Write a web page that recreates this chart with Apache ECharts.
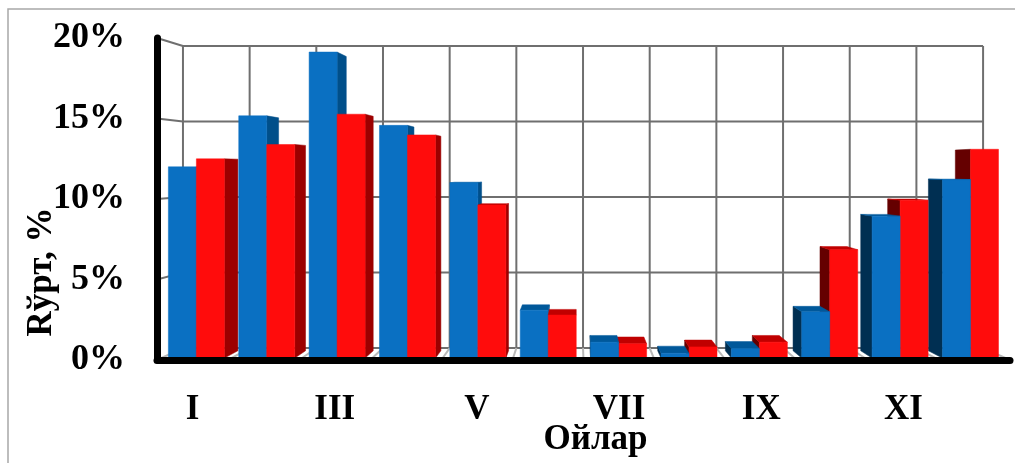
<!DOCTYPE html>
<html>
<head>
<meta charset="utf-8">
<script src="https://cdn.jsdelivr.net/npm/echarts@6/dist/echarts.min.js"></script>
<style>
  html, body { margin: 0; padding: 0; background: #ffffff; }
  #chart { width: 1015px; height: 463px; }
</style>
</head>
<body>
<div id="chart"></div>
<script>
// Months (Roman numerals) and monthly shares, %
const months = ['I', 'II', 'III', 'IV', 'V', 'VI', 'VII', 'VIII', 'IX', 'X', 'XI', 'XII'];
const seriesBlue = [12.0, 15.2, 19.2, 14.6, 11.0, 3.0, 1.0, 0.3, 0.6, 2.9, 8.9, 11.2];
const seriesRed  = [12.5, 13.4, 15.3, 14.0, 9.6, 2.7, 0.9, 0.7, 1.0, 6.8, 9.9, 13.1];
const yTicks = [0, 5, 10, 15, 20];

// Simple perspective: everything is shrunk toward a vanishing point as it goes back.
const VP = { fx: 0.491, fy: 0.404 };                          // vanishing point, fraction of plot area
const DEPTH = { barFront: 0.99, barBack: 0.952, wall: 0.938 }; // scale factors per depth plane
const BAR_FRAC = 0.398;                                        // bar width as a share of a category

const FONT = '"Liberation Serif", "Times New Roman", serif';
const GRID_COLOR = '#6f6f6f';

const paletteBlue = { front: '#0a70c2', top: '#00589a', sideR: '#004f8a', sideL: '#002f52' };
const paletteRed  = { front: '#ff0c0c', top: '#c00000', sideR: '#9c0000', sideL: '#650000' };

function projector(cs) {
  const cx = cs.x + cs.width * VP.fx;
  const cy = cs.y + cs.height * VP.fy;
  return { cx, cy, P: (x, y, s) => [cx + s * (x - cx), cy + s * (y - cy)] };
}

function poly(points, color) {
  return { type: 'polygon', shape: { points }, style: { fill: color, stroke: color, lineWidth: 0.5 } };
}

function barRenderer(side, palette) {
  return function (params, api) {
    const { cx, cy, P } = projector(params.coordSys);
    const i = api.value(0), v = api.value(1);
    const base = api.coord([i, 0]);
    const top = api.coord([i, v]);
    const bw = api.size([1, 0])[0] * BAR_FRAC;
    const x0 = side === 0 ? base[0] - bw : base[0];
    const x1 = x0 + bw;
    const yb = base[1], yt = top[1];
    const f = DEPTH.barFront, b = DEPTH.barBack;
    const parts = [];
    if (x1 < cx) {
      parts.push(poly([P(x1, yt, f), P(x1, yt, b), P(x1, yb, b), P(x1, yb, f)], palette.sideR));
    } else if (x0 > cx) {
      parts.push(poly([P(x0, yt, f), P(x0, yt, b), P(x0, yb, b), P(x0, yb, f)], palette.sideL));
    }
    if (yt > cy) {
      parts.push(poly([P(x0, yt, f), P(x1, yt, f), P(x1, yt, b), P(x0, yt, b)], palette.top));
    }
    parts.push(poly([P(x0, yt, f), P(x1, yt, f), P(x1, yb, f), P(x0, yb, f)], palette.front));
    // bars nearer the vanishing point are painted later
    const dist = Math.abs((x0 + x1) / 2 - cx);
    const z2 = Math.round(3000 - dist * 2);
    parts.forEach(p => { p.z2 = z2; });
    return { type: 'group', children: parts };
  };
}

function wallRenderer(params, api) {
  const { P } = projector(params.coordSys);
  const w = DEPTH.wall;
  const band = api.size([1, 0])[0];
  const bounds = months.map((m, k) => api.coord([k, 0])[0] - band / 2);
  bounds.push(api.coord([months.length - 1, 0])[0] + band / 2);
  const left = bounds[0], right = bounds[bounds.length - 1];
  const y0 = api.coord([0, yTicks[0]])[1];
  const yTop = api.coord([0, yTicks[yTicks.length - 1]])[1];
  const lines = [];
  const seg = (a, b, color) => ({
    type: 'line',
    shape: { x1: a[0], y1: a[1], x2: b[0], y2: b[1] },
    style: { stroke: color || GRID_COLOR, lineWidth: 2 }
  });
  yTicks.forEach(v => {
    const y = api.coord([0, v])[1];
    lines.push(seg(P(left, y, w), P(right, y, w)));
    if (v > 0) lines.push(seg(P(left, y, 1), P(left, y, w)));
  });
  bounds.forEach(bx => {
    lines.push(seg(P(bx, y0, w), P(bx, yTop, w)));
    lines.push(seg(P(bx, y0, 1), P(bx, y0, w), '#b9b9b9'));
  });
  return { type: 'group', children: lines };
}

const chart = echarts.init(document.getElementById('chart'), null, { renderer: 'canvas' });

chart.setOption({
  animation: false,
  backgroundColor: '#ffffff',
  grid: { left: 157, right: 5, top: 38, bottom: 103, containLabel: false, outerBoundsMode: 'none' },
  xAxis: {
    type: 'category',
    data: months,
    z: 10,
    axisLine: { show: true, lineStyle: { color: '#000000', width: 7, cap: 'round' } },
    axisTick: { show: false },
    splitLine: { show: false },
    axisLabel: {
      interval: 1,
      margin: 32,
      color: '#000000',
      fontFamily: FONT,
      fontWeight: 'bold',
      fontSize: 35
    },
    name: 'Ойлар',
    nameLocation: 'middle',
    nameGap: 62,
    nameMoveOverlap: false,
    nameTextStyle: {
      color: '#000000',
      fontFamily: FONT,
      fontWeight: 'bold',
      fontSize: 35,
      padding: [0, 0, 0, 24]
    }
  },
  yAxis: {
    type: 'value',
    min: 0,
    max: 20,
    interval: 5,
    z: 10,
    axisLine: { show: true, lineStyle: { color: '#000000', width: 7, cap: 'round' } },
    axisTick: { show: false },
    splitLine: { show: false },
    axisLabel: {
      margin: 32,
      padding: [9, 0, 0, 0],
      color: '#000000',
      fontFamily: FONT,
      fontWeight: 'bold',
      fontSize: 36,
      formatter: '{value}%'
    }
  },
  graphic: [
    {
      type: 'rect',
      shape: { x: 8, y: 9, width: 1100, height: 600 },
      style: { fill: 'none', stroke: '#a8a8a8', lineWidth: 1.5 },
      silent: true
    },
    {
      type: 'text',
      x: 42,
      y: 272,
      rotation: Math.PI / 2,
      style: {
        text: 'Rўрт, %',
        font: 'bold 35px ' + FONT,
        fill: '#000000',
        align: 'center',
        verticalAlign: 'middle',
        textAlign: 'center',
        textVerticalAlign: 'middle'
      }
    }
  ],
  series: [
    {
      name: 'wall',
      type: 'custom',
      z: 1,
      silent: true,
      data: [[0, 0]],
      renderItem: wallRenderer
    },
    {
      name: 'Ряд 1',
      type: 'custom',
      z: 2,
      data: seriesBlue.map((v, i) => [i, v]),
      encode: { x: 0, y: 1 },
      renderItem: barRenderer(0, paletteBlue)
    },
    {
      name: 'Ряд 2',
      type: 'custom',
      z: 2,
      data: seriesRed.map((v, i) => [i, v]),
      encode: { x: 0, y: 1 },
      renderItem: barRenderer(1, paletteRed)
    }
  ]
});
</script>
</body>
</html>
